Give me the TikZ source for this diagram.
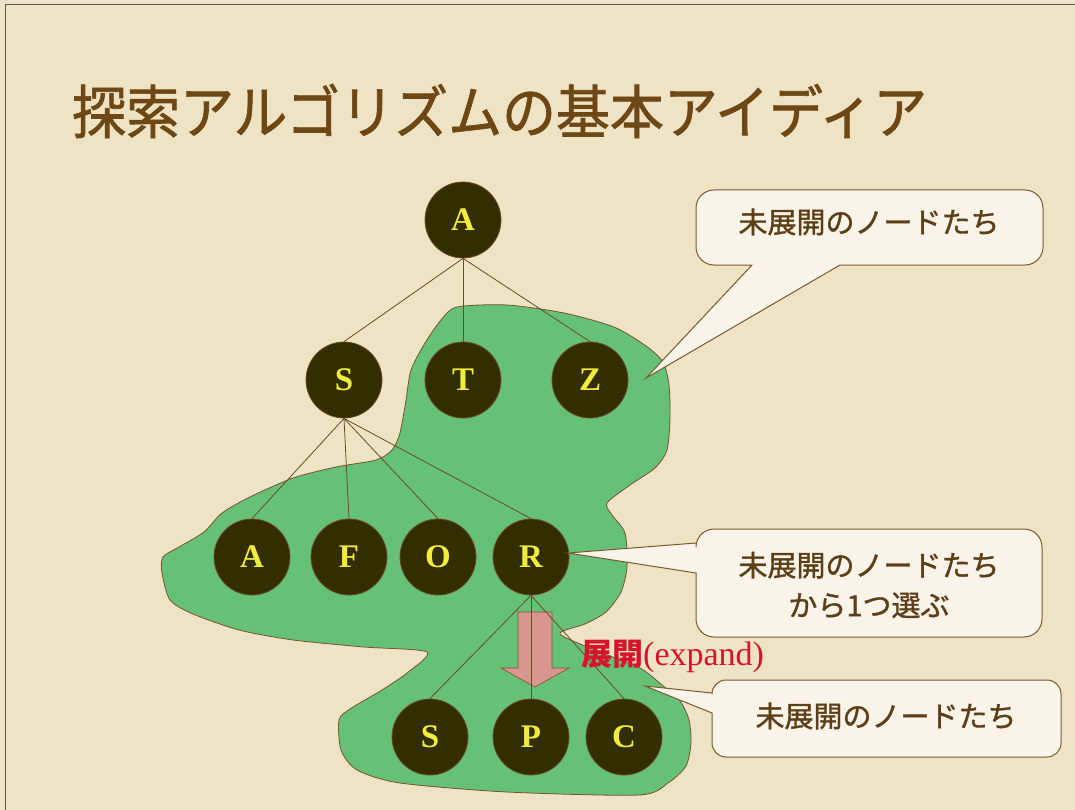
\documentclass[tikz,border=0pt]{standalone}
\usepackage{fontspec}
\setmainfont{Liberation Serif}
\newfontfamily\jp{Noto Sans CJK JP}
\newfontfamily\jpb[FakeBold=1.2]{Noto Sans CJK JP}
\definecolor{bgc}{HTML}{EFE3C5}
\definecolor{blobc}{HTML}{66C178}
\definecolor{blobline}{HTML}{7A5230}
\definecolor{nodefill}{HTML}{332E00}
\definecolor{nodeline}{HTML}{6B4A1F}
\definecolor{nodetext}{HTML}{F0EC3C}
\definecolor{edgec}{HTML}{6B4A26}
\definecolor{callfill}{HTML}{FAF3EA}
\definecolor{callline}{HTML}{7A5A2A}
\definecolor{calltext}{HTML}{5C3F17}
\definecolor{titlec}{HTML}{6E4814}
\definecolor{arrowfill}{HTML}{D8968F}
\definecolor{arrowline}{HTML}{8B4A2A}
\definecolor{redc}{HTML}{D6142B}
\tikzset{
  tnode/.style={circle, minimum size=76pt, inner sep=0pt, fill=nodefill, draw=nodeline, line width=0.8pt,
    text=nodetext, font=\fontsize{33}{34}\selectfont\bfseries},
  edge/.style={draw=edgec, line width=0.8pt},
  callout/.style={fill=callfill, draw=callline, line width=1pt},
  calltxt/.style={text=calltext, font=\jpb\fontsize{29}{40}\selectfont, align=center, inner sep=0pt}
}
\begin{document}
\begin{tikzpicture}[x=1pt,y=-1pt]
\useasboundingbox (0,0) rectangle (1075,810);
\fill[bgc] (0,0) rectangle (1075,810);
\draw[gray!70!black, line width=1pt] (5,810) -- (5,5) -- (1075,5);

% title
\node[anchor=west, text=titlec, font=\jpb\fontsize{58}{60}\selectfont, xscale=0.93, inner sep=0pt] (title) at (72,111) {探索アルゴリズムの基本アイディア};

% green blob
\draw[fill=blobc, draw=blobline, line width=0.8pt] plot[smooth cycle, tension=0.45] coordinates {
(457,307) (507,305) (564,313) (614,327) (646,346) (663,362) (669,385) (670,418) (667,450) (655,468)
(630,485) (607,503) (612,515) (625,533) (627,567) (621,592) (606,612) (585,624) (560,634) (600,652)
(640,668) (662,685) (680,701) (689,720) (691,743) (686,766) (668,783) (639,795) (507,792) (400,783)
(357,770) (341,750) (339,720) (350,709) (382,690) (407,673) (427,652) (364,647) (293,640) (239,630)
(193,614) (170,600) (162,573) (163,557) (179,547) (204,532) (222,513) (250,497) (293,478) (336,467)
(376,460) (392,450) (400,433) (406,400) (411,370) (425,343) (441,320)};

% expand arrow
\draw[fill=arrowfill, draw=arrowline, line width=0.6pt]
  (518,612) -- (552,612) -- (552,668) -- (569,668) -- (535,687) -- (501,668) -- (518,668) -- cycle;

% nodes
\node[tnode] (A)  at (463,220) {A};
\node[tnode] (S)  at (344,380) {S};
\node[tnode] (T)  at (463,380) {T};
\node[tnode] (Z)  at (590,380) {Z};
\node[tnode] (A2) at (252,557) {A};
\node[tnode] (F)  at (349,557) {F};
\node[tnode] (O)  at (438,557) {O};
\node[tnode] (R)  at (531,557) {R};
\node[tnode] (S3) at (430,737) {S};
\node[tnode] (P)  at (531,737) {P};
\node[tnode] (C)  at (624,737) {C};

% edges
\foreach \c in {S,T,Z} \draw[edge] (A.south) -- (\c.north);
\foreach \c in {A2,F,O,R} \draw[edge] (S.south) -- (\c.north);
\foreach \c in {S3,P,C} \draw[edge] (R.south) -- (\c.north);

% expand label
\node[anchor=west, inner sep=0pt, text=redc] (exp) at (581,656)
  {{\jp\bfseries\fontsize{31}{34}\selectfont 展開}{\fontsize{34}{36}\selectfont (expand)}};

% callouts
\draw[callout] (870,190) [rounded corners=18pt] -- (696,190) -- (696,265) [sharp corners] -- (752,265) -- (646,378) -- (840,265) [rounded corners=18pt] -- (1043,265) -- (1043,190) -- cycle;
\node[calltxt] (c1) at (869,222) {未展開のノードたち};

\draw[callout] (870,529) [rounded corners=18pt] -- (696,529) [sharp corners] -- (696,543) -- (568,553) -- (696,573) [rounded corners=18pt] -- (696,637) -- (1042,637) -- (1042,529) -- cycle;
\node[calltxt] (c2) at (869,585) {未展開のノードたち\\から1つ選ぶ};

\draw[callout] (886,680) [rounded corners=14pt] -- (712,680) [sharp corners] -- (712,693) -- (645,686) -- (712,713) [rounded corners=14pt] -- (712,757) -- (1061,757) -- (1061,680) -- cycle;
\node[calltxt] (c3) at (886,716) {未展開のノードたち};
\end{tikzpicture}
\end{document}
